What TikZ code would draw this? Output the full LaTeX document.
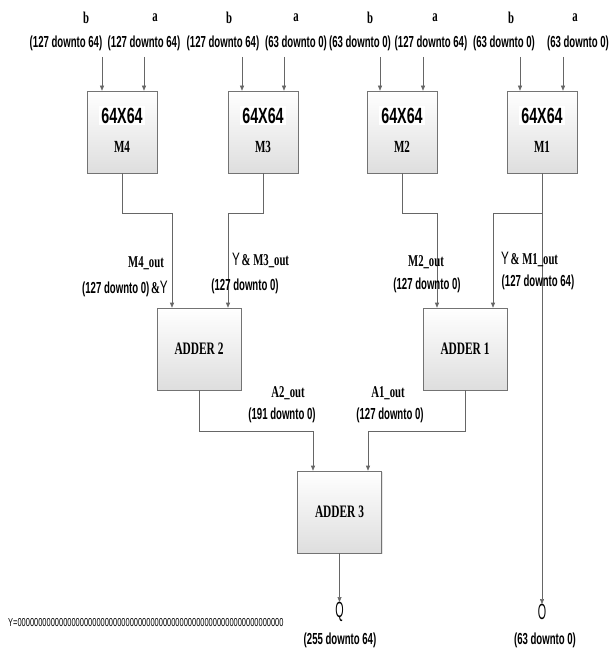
\documentclass[tikz,border=0pt]{standalone}
\usepackage{fontspec}
\setmainfont{Liberation Serif}[FakeStretch=0.65]
\newfontfamily\snf{Liberation Sans}[FakeStretch=0.65]
\newfontfamily\snr{Liberation Sans}[FakeStretch=0.6]
\usetikzlibrary{arrows.meta,calc,shadows}
\newcommand\fsz[1]{\fontsize{#1}{#1}\selectfont}
\begin{document}
\begin{tikzpicture}[x=1pt,y=-1pt,
  blk/.style={draw=black!55, line width=0.6pt, top color=white, bottom color=black!13,
    drop shadow={opacity=0.2,shadow xshift=1.2pt,shadow yshift=-1.2pt},
    minimum width=70pt, minimum height=82pt, inner sep=0pt},
  addblk/.style={blk, minimum width=84pt},
  arr/.style={draw=black!60, line width=0.6pt, -{Triangle[length=5pt,width=4pt]}},
  rng/.style={font=\snr\bfseries\fsz{16}, inner sep=0pt},
  sig/.style={font=\bfseries\fsz{16.5}, inner sep=0pt},
  mult/.style={font=\snf\bfseries\fsz{22}, fill=white, inner sep=2pt},
  mname/.style={font=\bfseries\fsz{17}, inner sep=0pt},
  addt/.style={font=\bfseries\fsz{17.5}, inner sep=0pt},
  outl/.style={font=\snf\fsz{22}, inner sep=0pt}
]
\useasboundingbox (0,0) rectangle (611,652);

% multiplier blocks
\node[blk] (m4) at (122,132) {};
\node[blk] (m3) at (263,132) {};
\node[blk] (m2) at (402,132) {};
\node[blk] (m1) at (542,132) {};
\foreach \m/\n in {m4/M4,m3/M3,m2/M2,m1/M1}{
  \node[mult] (\m t) at ($(\m.north)+(0,25)$) {64X64};
  \node[mname] (\m n) at ($(\m.north)+(0,56)$) {\n};
}

% adders
\node[addblk] (add2) at (199,349) {};
\node[addblk] (add1) at (465,349) {};
\node[addblk] (add3) at (339.5,512) {};
\node[addt] (add2t) at (add2) {ADDER 2};
\node[addt] (add1t) at (add1) {ADDER 1};
\node[addt] (add3t) at (add3) {ADDER 3};

% top labels
\foreach \x/\t [count=\i] in {86/b,155/a,229/b,296/a,370/b,435/a,511/b,575/a}{
  \node[sig] (top\i) at (\x,18) {\t};
}
\node[rng] (r1) at (66,43) {(127 downto 64)};
\node[rng] (r2) at (144,43) {(127 downto 64)};
\node[rng] (r3) at (223,43) {(127 downto 64)};
\node[rng] (r4) at (296,43) {(63 downto 0)};
\node[rng] (r5) at (360,43) {(63 downto 0)};
\node[rng] (r6) at (431,43) {(127 downto 64)};
\node[rng] (r7) at (504,43) {(63 downto 0)};
\node[rng] (r8) at (578,43) {(63 downto 0)};

% input arrows
\foreach \x/\m [count=\i] in {102/m4,144/m4,242/m3,284/m3,380/m2,423/m2,520/m1,563/m1}{
  \coordinate (in\i) at (\x,57);
  \draw[arr] (in\i) -- (in\i |- \m.north);
}

% multiplier outputs to adders
\coordinate (j4) at (172,213);
\coordinate (j3) at (228,213);
\coordinate (j2) at (437,213);
\coordinate (j1) at (493,213);
\draw[arr] (m4.south) |- (j4) -- (j4 |- add2.north);
\draw[arr] (m3.south) |- (j3) -- (j3 |- add2.north);
\draw[arr] (m2.south) |- (j2) -- (j2 |- add1.north);
\draw[arr] (m1.south |- j1) -- (j1) -- (j1 |- add1.north);

% outputs
\node[outl] (qn) at (339.5,612) {\scalebox{0.75}[1]{Q}};
\node[outl] (on) at (542,612) {\scalebox{0.75}[1]{O}};
\draw[arr] (m1.south) -- (on.north);

\coordinate (ja2) at (313,431);
\coordinate (ja1) at (368,431);
\draw[arr] (add2.south) |- (ja2) -- (ja2 |- add3.north);
\draw[arr] (add1.south) |- (ja1) -- (ja1 |- add3.north);
\draw[arr] (add3.south) -- (qn.north);

% signal labels
\node[sig] (l4a) at (146,263) {M4\_out};
\node[inner sep=0pt, anchor=east] (l4b) at (168,289) {{\snr\bfseries\fsz{16}(127 downto 0)}\,{\bfseries\fsz{16.5}\&}{\snf\fsz{18}Y}};
\node[inner sep=0pt, anchor=west] (l3a) at (232,260) {{\snf\fsz{18}Y}\,{\bfseries\fsz{16.5}\& M3\_out}};
\node[rng] (l3b) at (245,286) {(127 downto 0)};
\node[sig] (l2a) at (426,262) {M2\_out};
\node[rng] (l2b) at (427,285) {(127 downto 0)};
\node[inner sep=0pt, anchor=west] (l1a) at (501,259) {{\snf\fsz{18}Y}\,{\bfseries\fsz{16.5}\& M1\_out}};
\node[rng] (l1b) at (538,282) {(127 downto 64)};
\node[sig] (a2a) at (288,393) {A2\_out};
\node[rng] (a2b) at (282,415) {(191 downto 0)};
\node[sig] (a1a) at (388,393) {A1\_out};
\node[rng] (a1b) at (390,415) {(127 downto 0)};
\node[rng] (qb) at (340,640) {(255 downto 64)};
\node[rng] (ob) at (545,640) {(63 downto 0)};
\node[inner sep=0pt, anchor=west, font=\snf\fsz{11.5}] (yv) at (8,623) {Y=0000000000000000000000000000000000000000000000000000000000000000};
\end{tikzpicture}
\end{document}
